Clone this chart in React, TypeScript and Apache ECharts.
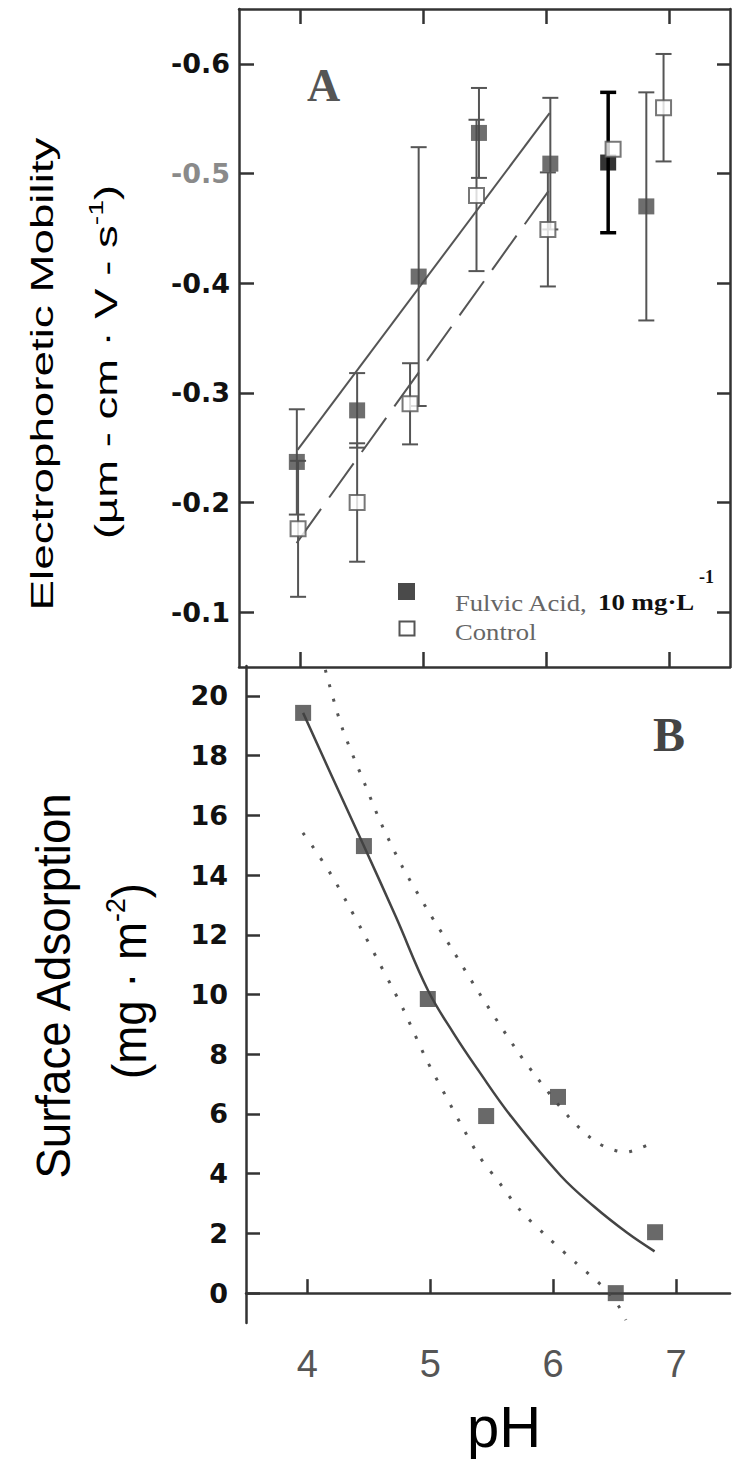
import React, { useEffect, useRef } from 'react';
import * as echarts from 'echarts';

// ---- tick labels ----
const pHTicks = [4, 5, 6, 7];
const mobilityTicks = [-0.6, -0.5, -0.4, -0.3, -0.2, -0.1];
const adsorptionTicks = [0, 2, 4, 6, 8, 10, 12, 14, 16, 18, 20];

// ---- Panel A: electrophoretic mobility ----
const fulvicPH = [3.97, 4.46, 4.96, 5.45, 6.03, 6.5, 6.81];
const fulvicMobility = [-0.237, -0.284, -0.406, -0.537, -0.509, -0.51, -0.47];
const fulvicError = [0.048, 0.034, 0.118, 0.041, 0.06, 0.064, 0.104];

const controlPH = [3.98, 4.46, 4.89, 5.43, 6.01, 6.54, 6.95];
const controlMobility = [-0.176, -0.2, -0.29, -0.48, -0.449, -0.522, -0.56];
const controlError = [0.062, 0.054, 0.037, 0.069, 0.052, null, 0.049];

const fulvicFitPH = [3.976, 6.024];
const fulvicFitMobility = [-0.248, -0.555];
const controlFitPH = [3.968, 6.015];
const controlFitMobility = [-0.163, -0.484];

// ---- Panel B: surface adsorption ----
const adsorptionPH = [3.965, 4.46, 4.98, 5.455, 6.04, 6.51, 6.83];
const adsorption = [19.43, 14.97, 9.85, 5.93, 6.57, 0.0, 2.04];

const fitPH = [3.965, 4.2, 4.458, 4.72, 4.98, 5.19, 5.393, 5.658, 6.06, 6.333, 6.6, 6.826];
const fitAdsorption = [19.43, 17.3, 14.99, 12.6, 10.15, 8.7, 7.45, 5.92, 3.94, 2.9, 2.03, 1.4];

const upperPH = [4.146, 4.28, 4.463, 4.598, 4.774, 4.978, 5.182, 5.398, 5.703, 5.864, 6.137, 6.363, 6.589, 6.71, 6.82];
const upperAdsorption = [20.87, 18.96, 17.09, 15.75, 14.27, 12.83, 11.49, 10.05, 8.14, 7.24, 5.86, 5.03, 4.72, 4.86, 5.06];

const lowerPH = [3.963, 4.05, 4.204, 4.332, 4.452, 4.572, 4.692, 4.787, 4.963, 5.13, 5.266, 5.402, 5.564, 5.731, 5.964, 6.19, 6.408, 6.528, 6.593];
const lowerAdsorption = [15.41, 14.91, 13.94, 13.0, 12.09, 11.16, 10.22, 9.45, 7.87, 6.57, 5.53, 4.56, 3.69, 2.78, 1.84, 1.0, 0.2, -0.4, -0.9];

const zip = (xs: number[], ys: number[]) => xs.map((x, i) => [x, ys[i]]);

const AXIS_COLOR = '#333';
const axisLine = { show: true, lineStyle: { color: AXIS_COLOR, width: 2.5 } };
const tickStyle = { color: AXIS_COLOR, width: 2.5 };

function errorBarRender(params: any, api: any) {
  const x = api.value(0);
  const lo = api.value(1);
  const hi = api.value(2);
  const dark = api.value(3) === 1;
  const p1 = api.coord([x, lo]);
  const p2 = api.coord([x, hi]);
  const hw = 8;
  const style = { stroke: dark ? '#000' : '#555', lineWidth: dark ? 3.5 : 2 };
  return {
    type: 'group',
    children: [
      { type: 'line', shape: { x1: p1[0], y1: p1[1], x2: p2[0], y2: p2[1] }, style },
      { type: 'line', shape: { x1: p1[0] - hw, y1: p1[1], x2: p1[0] + hw, y2: p1[1] }, style },
      { type: 'line', shape: { x1: p2[0] - hw, y1: p2[1], x2: p2[0] + hw, y2: p2[1] }, style },
    ],
  };
}

const SANS = 'Liberation Sans';
const SERIF = 'Liberation Serif';

function buildOption() {
  const fulvicErrData = fulvicPH.map((x, i) => [x, fulvicMobility[i] - fulvicError[i], fulvicMobility[i] + fulvicError[i], i === 5 ? 1 : 0]);
  const controlErrData = controlPH
    .map((x, i) => (controlError[i] == null ? null : [x, controlMobility[i] - (controlError[i] as number), controlMobility[i] + (controlError[i] as number), 0]))
    .filter((d) => d !== null);

  const leftText = (text: string, x: number, y: number, size: number, fill: string, bold = false, sx = 1) => ({
    type: 'text', x, y, z: 10, scaleX: sx,
    style: {
      text, fontSize: size, fontFamily: SERIF, fontWeight: bold ? 'bold' : 'normal', fill,
      align: 'left', textAlign: 'left', verticalAlign: 'middle', textVerticalAlign: 'middle',
    },
  });

  return {
    animation: false,
    backgroundColor: '#fff',
    grid: [
      { left: 239, top: 9, width: 491, height: 658, outerBoundsMode: 'none' },
      { left: 246, top: 666, width: 484, height: 657, outerBoundsMode: 'none' },
    ],
    xAxis: [
      {
        gridIndex: 0, type: 'value', min: 3.5, max: 7.49, position: 'bottom',
        axisLine, splitLine: { show: false },
        axisTick: { show: true, inside: true, length: 15, customValues: pHTicks, lineStyle: tickStyle },
        axisLabel: { show: false },
      },
      {
        gridIndex: 0, type: 'value', min: 3.5, max: 7.49, position: 'top',
        axisLine, splitLine: { show: false },
        axisTick: { show: true, inside: true, length: 15, customValues: pHTicks, lineStyle: tickStyle },
        axisLabel: { show: false },
      },
      {
        gridIndex: 1, type: 'value', min: 3.5, max: 7.44, position: 'bottom',
        axisLine, splitLine: { show: false },
        axisTick: { show: true, inside: true, length: 14, customValues: pHTicks, lineStyle: tickStyle },
        axisLabel: { show: true, customValues: pHTicks, fontSize: 38, fontFamily: SANS, color: '#555', margin: 22 },
      },
    ],
    yAxis: [
      {
        gridIndex: 0, type: 'value', min: -0.65, max: -0.05, inverse: true, position: 'left',
        axisLine, splitLine: { show: false },
        axisTick: { show: true, inside: true, length: 15, customValues: mobilityTicks, lineStyle: tickStyle },
        axisLabel: {
          show: true, customValues: mobilityTicks, margin: 9,
          fontSize: 27, fontFamily: 'DejaVu Sans', fontWeight: 'bold',
          formatter: (v: any) => Number(v).toFixed(1),
          color: (v: any) => (Math.abs(Number(v) + 0.5) < 1e-6 ? '#8a8a8a' : '#111'),
        },
      },
      {
        gridIndex: 0, type: 'value', min: -0.65, max: -0.05, inverse: true, position: 'right',
        axisLine, splitLine: { show: false },
        axisTick: { show: true, inside: true, length: 13, customValues: mobilityTicks, lineStyle: tickStyle },
        axisLabel: { show: false },
      },
      {
        gridIndex: 1, type: 'value', min: -1, max: 21, position: 'left',
        axisLine, splitLine: { show: false },
        axisTick: { show: true, inside: true, length: 14, customValues: adsorptionTicks, lineStyle: tickStyle },
        axisLabel: {
          show: true, customValues: adsorptionTicks, margin: 18,
          fontSize: 27, fontFamily: 'DejaVu Sans', fontWeight: 'bold', color: '#111',
        },
      },
    ],
    series: [
      {
        name: 'Fulvic error', type: 'custom', xAxisIndex: 0, yAxisIndex: 0, z: 2,
        renderItem: errorBarRender, data: fulvicErrData, encode: { x: 0, y: [1, 2] },
      },
      {
        name: 'Control error', type: 'custom', xAxisIndex: 0, yAxisIndex: 0, z: 2,
        renderItem: errorBarRender, data: controlErrData, encode: { x: 0, y: [1, 2] },
      },
      {
        name: 'Fulvic fit', type: 'line', xAxisIndex: 0, yAxisIndex: 0, z: 3,
        data: zip(fulvicFitPH, fulvicFitMobility), symbol: 'none', showSymbol: false,
        lineStyle: { color: '#555', width: 2 },
      },
      {
        name: 'Control fit', type: 'line', xAxisIndex: 0, yAxisIndex: 0, z: 3,
        data: zip(controlFitPH, controlFitMobility), symbol: 'none', showSymbol: false,
        lineStyle: { color: '#555', width: 2, type: [42, 14] },
      },
      {
        name: 'Fulvic Acid, 10 mg·L-1', type: 'scatter', xAxisIndex: 0, yAxisIndex: 0, z: 5,
        symbol: 'rect', symbolSize: 16,
        itemStyle: { color: '#4a4a4a' },
        data: fulvicPH.map((x, i) => (i === 5 ? { value: [x, fulvicMobility[i]], itemStyle: { color: '#000' } } : [x, fulvicMobility[i]])),
      },
      {
        name: 'Control', type: 'scatter', xAxisIndex: 0, yAxisIndex: 0, z: 6,
        symbol: 'rect', symbolSize: 15,
        itemStyle: { color: '#fff', borderColor: '#555', borderWidth: 2 },
        data: zip(controlPH, controlMobility),
      },
      {
        name: 'Adsorption fit', type: 'line', xAxisIndex: 2, yAxisIndex: 2, z: 3,
        data: zip(fitPH, fitAdsorption), symbol: 'none', showSymbol: false, smooth: 0.4,
        lineStyle: { color: '#444', width: 2.5 },
      },
      {
        name: 'Upper band', type: 'line', xAxisIndex: 2, yAxisIndex: 2, z: 3,
        data: zip(upperPH, upperAdsorption), symbol: 'none', showSymbol: false, smooth: 0.3,
        lineStyle: { color: '#555', width: 3, type: [3, 12] },
      },
      {
        name: 'Lower band', type: 'line', xAxisIndex: 2, yAxisIndex: 2, z: 3,
        data: zip(lowerPH, lowerAdsorption), symbol: 'none', showSymbol: false, smooth: 0.3,
        lineStyle: { color: '#555', width: 3, type: [3, 12.5] },
      },
      {
        name: 'Surface adsorption', type: 'scatter', xAxisIndex: 2, yAxisIndex: 2, z: 5,
        symbol: 'rect', symbolSize: 16, itemStyle: { color: '#444' },
        data: zip(adsorptionPH, adsorption),
      },
    ],
    graphic: {
      elements: [
        // panel letters
        {
          type: 'text', x: 307, y: 85, z: 10,
          style: { text: 'A', fontSize: 46, fontFamily: SERIF, fontWeight: 'bold', fill: '#555', align: 'left', textAlign: 'left', verticalAlign: 'middle', textVerticalAlign: 'middle' },
        },
        {
          type: 'text', x: 653, y: 734, z: 10,
          style: { text: 'B', fontSize: 48, fontFamily: SERIF, fontWeight: 'bold', fill: '#444', align: 'left', textAlign: 'left', verticalAlign: 'middle', textVerticalAlign: 'middle' },
        },
        // legend
        { type: 'rect', z: 10, shape: { x: 398, y: 583, width: 17, height: 17 }, style: { fill: '#4a4a4a' } },
        { type: 'rect', z: 10, shape: { x: 399.5, y: 621.5, width: 15, height: 14 }, style: { fill: '#fff', stroke: '#555', lineWidth: 2 } },
        leftText('Fulvic Acid,', 455, 602, 24, '#666', false, 1.11),
        leftText('10 mg·L', 598, 602, 24, '#111', true, 1.12),
        leftText('-1', 699, 577, 18, '#111', true),
        leftText('Control', 455, 631, 24, '#666', false, 1.11),
        // axis titles
        {
          type: 'text', x: 41.5, y: 374, rotation: Math.PI / 2, scaleX: 1.43, z: 10,
          style: { text: 'Electrophoretic Mobility', fontSize: 32, fontFamily: SANS, fill: '#000', align: 'center', textAlign: 'center', verticalAlign: 'middle', textVerticalAlign: 'middle' },
        },
        {
          type: 'text', x: 106, y: 362, rotation: Math.PI / 2, scaleX: 1.42, z: 10,
          style: {
            text: '(µm - cm · V - s{sup|-1})', fontSize: 32, fontFamily: SANS, fill: '#000', lineHeight: 40,
            align: 'center', textAlign: 'center', verticalAlign: 'middle', textVerticalAlign: 'middle',
            rich: { sup: { fontSize: 20, fontFamily: SANS, fill: '#000', color: '#000', verticalAlign: 'top', lineHeight: 20 } },
          },
        },
        {
          type: 'text', x: 54, y: 986, rotation: Math.PI / 2, scaleX: 0.95, z: 10,
          style: { text: 'Surface Adsorption', fontSize: 48, fontFamily: SANS, fill: '#000', align: 'center', textAlign: 'center', verticalAlign: 'middle', textVerticalAlign: 'middle' },
        },
        {
          type: 'text', x: 130, y: 981, rotation: Math.PI / 2, scaleX: 0.95, z: 10,
          style: {
            text: '(mg · m{sup|-2})', fontSize: 48, fontFamily: SANS, fill: '#000', lineHeight: 58,
            align: 'center', textAlign: 'center', verticalAlign: 'middle', textVerticalAlign: 'middle',
            rich: { sup: { fontSize: 28, fontFamily: SANS, fill: '#000', color: '#000', verticalAlign: 'top', lineHeight: 28 } },
          },
        },
        {
          type: 'text', x: 504, y: 1426, z: 10,
          style: { text: 'pH', fontSize: 58, fontFamily: SANS, fill: '#000', align: 'center', textAlign: 'center', verticalAlign: 'middle', textVerticalAlign: 'middle' },
        },
      ],
    },
  };
}

export default function App() {
  const ref = useRef<HTMLDivElement>(null);
  useEffect(() => {
    if (!ref.current) return;
    const chart = echarts.init(ref.current, null, { renderer: 'svg' });
    chart.setOption(buildOption() as any);
    return () => chart.dispose();
  }, []);
  return (
    <div
      ref={ref}
      style={{ position: 'absolute', left: 0, top: 0, width: 732, height: 1459, background: '#fff' }}
    />
  );
}
